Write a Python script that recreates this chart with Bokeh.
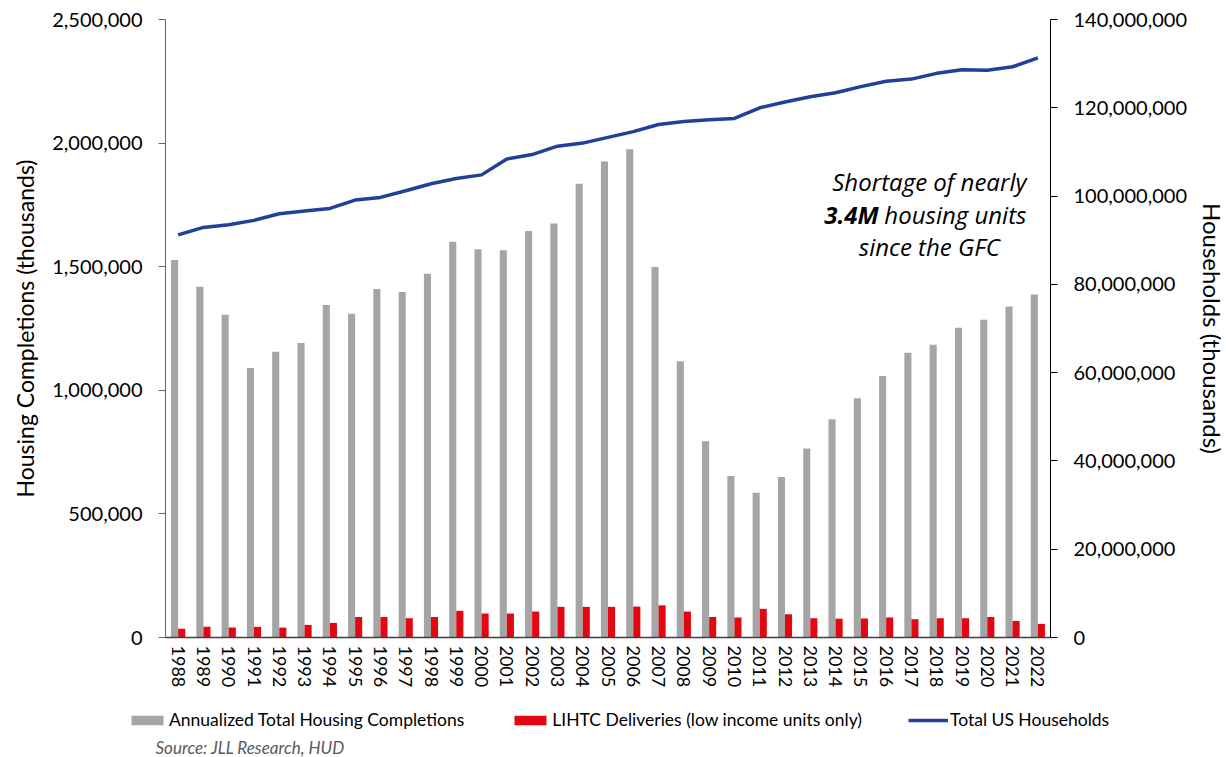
from bokeh.plotting import figure
from bokeh.models import (Range1d, LinearAxis, FixedTicker, NumeralTickFormatter,
                          Legend, LegendItem, Label, ColumnDataSource)
from bokeh.transform import dodge
from bokeh.embed import file_html
from bokeh.resources import INLINE

years = list(range(1988, 2023))

# Annualized total housing completions (units)
completions = [1527000, 1419000, 1306000, 1090000, 1156000, 1191000, 1345000, 1310000,
               1410000, 1398000, 1471000, 1601000, 1571000, 1567000, 1644000, 1675000,
               1836000, 1926000, 1975000, 1499000, 1118000, 794000, 653000, 586000,
               649000, 765000, 883000, 968000, 1058000, 1152000, 1184000, 1253000,
               1285000, 1339000, 1388000]

# LIHTC deliveries, low income units only
lihtc = [35000, 43000, 40000, 43000, 40000, 51000, 59000, 83000, 83000, 78000, 83000,
         108000, 97000, 97000, 105000, 124000, 124000, 124000, 125000, 130000, 105000,
         83000, 81000, 116000, 94000, 78000, 76000, 77000, 81000, 74000, 78000, 78000,
         83000, 67000, 55000]

# Total US households (millions)
households_m = [91.2, 92.9, 93.5, 94.5, 96.0, 96.6, 97.2, 99.1, 99.7, 101.2, 102.8,
                104.0, 104.8, 108.4, 109.4, 111.3, 112.0, 113.3, 114.6, 116.2, 116.9,
                117.3, 117.6, 120.0, 121.3, 122.5, 123.4, 124.8, 126.0, 126.5, 127.8,
                128.6, 128.5, 129.3, 131.3]

left_ticks = [0, 500000, 1000000, 1500000, 2000000, 2500000]
right_ticks = [0, 20e6, 40e6, 60e6, 80e6, 100e6, 120e6, 140e6]
LEFT_MAX = 2500000
RIGHT_MAX = 140e6

series_names = ["Annualized Total Housing Completions",
                "LIHTC Deliveries (low income units only)",
                "Total US Households"]

FONT = "Lato"
NOTE_FONT = "Open Sans"
GRAY = "#A5A5A5"
RED = "#E30613"
BLUE = "#21409A"
BAR_W = 0.28
LINE_W = 3.5

# page geometry (px): the whole canvas is the plot frame, the axes are pinned
# at fixed locations so the legend and the source note can sit below them
W, H = 1226, 757
AX_L, AX_R, AX_T, AX_B = 165, 1050, 19, 637

n = len(years)
px_per_cat = (AX_R - AX_L) / n
x_lo = -0.5 - AX_L / px_per_cat
x_hi = n - 0.5 + (W - AX_R) / px_per_cat


def span(vmax):
    per_px = vmax / (AX_B - AX_T)
    return Range1d(-(H - AX_B) * per_px, vmax + AX_T * per_px)


idx = list(range(n))
src = ColumnDataSource(dict(
    idx=idx,
    completions=completions,
    lihtc=lihtc,
    households=[h * 1e6 for h in households_m],
))

p = figure(width=W, height=H,
           x_range=Range1d(x_lo, x_hi), y_range=span(LEFT_MAX),
           output_backend="svg", toolbar_location=None,
           min_border=0, outline_line_color=None,
           background_fill_color="white", border_fill_color="white")
p.grid.visible = False
p.extra_y_ranges = {"hh": span(RIGHT_MAX)}

r_comp = p.vbar(x=dodge("idx", -BAR_W / 2), top="completions", width=BAR_W,
                source=src, fill_color=GRAY, line_color=None)
r_lihtc = p.vbar(x=dodge("idx", BAR_W / 2), top="lihtc", width=BAR_W,
                 source=src, fill_color=RED, line_color=None)
r_hh = p.line("idx", "households", source=src, y_range_name="hh",
              line_color=BLUE, line_width=LINE_W, line_join="round")

# x axis: year labels, vertical, pinned at zero
xa = p.xaxis[0]
xa.fixed_location = 0
xa.bounds = (-0.5, n - 0.5)
xa.ticker = FixedTicker(ticks=idx)
xa.major_label_overrides = {i: str(y) for i, y in zip(idx, years)}
xa.major_label_orientation = "vertical"
xa.major_tick_line_color = None
xa.major_tick_out = 0
xa.major_tick_in = 0
xa.minor_tick_line_color = None
xa.axis_line_color = "#404040"
xa.axis_line_width = 1.5
xa.major_label_text_font = FONT
xa.major_label_text_font_size = "18px"
xa.major_label_text_color = "#000000"
xa.major_label_standoff = 8

# left axis
ya = p.yaxis[0]
ya.fixed_location = -0.5
ya.bounds = (0, LEFT_MAX)
ya.ticker = FixedTicker(ticks=left_ticks)
ya.formatter = NumeralTickFormatter(format="0,0")
ya.axis_label = "Housing Completions (thousands)"
ya.axis_label_text_font = FONT
ya.axis_label_text_font_size = "23px"
ya.axis_label_text_font_style = "normal"
ya.axis_label_text_color = "#000000"
ya.axis_label_standoff = 10
ya.major_label_text_font = FONT
ya.major_label_text_font_size = "20px"
ya.major_label_text_color = "#000000"
ya.major_label_standoff = 16
ya.major_tick_out = 7
ya.major_tick_in = 0
ya.minor_tick_line_color = None
ya.axis_line_color = "#666666"
ya.major_tick_line_color = "#666666"

# right axis
ra = LinearAxis(y_range_name="hh", fixed_location=n - 0.5, bounds=(0, RIGHT_MAX))
ra.ticker = FixedTicker(ticks=right_ticks)
ra.formatter = NumeralTickFormatter(format="0,0")
ra.axis_label = "Households (thousands)"
ra.axis_label_text_font = FONT
ra.axis_label_text_font_size = "24px"
ra.axis_label_text_font_style = "normal"
ra.axis_label_text_color = "#000000"
ra.axis_label_standoff = 8
ra.major_label_text_font = FONT
ra.major_label_text_font_size = "20px"
ra.major_label_text_color = "#000000"
ra.major_label_standoff = 16
ra.major_tick_out = 7
ra.major_tick_in = 0
ra.minor_tick_line_color = None
ra.axis_line_color = "#000000"
ra.major_tick_line_color = "#000000"
p.add_layout(ra, "right")

# annotation
note_kw = dict(text_font=NOTE_FONT, text_font_size="24px", text_font_style="italic",
               text_color="#000000", text_baseline="middle")
p.add_layout(Label(x=29.71, y=1845000, text="Shortage of nearly", text_align="center", **note_kw))
p.add_layout(Label(x=27.70, y=1711000, text="3.4M", text_align="right",
                   **{**note_kw, "text_font_style": "bold italic"}))
p.add_layout(Label(x=27.93, y=1711000, text="housing units", text_align="left", **note_kw))
p.add_layout(Label(x=29.71, y=1582000, text="since the GFC", text_align="center", **note_kw))

legend = Legend(items=[
    LegendItem(label=series_names[0], renderers=[r_comp]),
    LegendItem(label=series_names[1], renderers=[r_lihtc]),
    LegendItem(label=series_names[2], renderers=[r_hh]),
], orientation="horizontal", location=(127, 27), spacing=46,
    glyph_width=40, glyph_height=12, label_standoff=2,
    label_text_font=FONT, label_text_font_size="17.5px", label_text_color="#000000",
    border_line_color=None, background_fill_alpha=0, padding=2, margin=0)
p.add_layout(legend, "center")

p.add_layout(Label(x=155, y=10, x_units="screen", y_units="screen",
                   text="Source: JLL Research, HUD", text_font=FONT,
                   text_font_size="17px", text_font_style="italic",
                   text_color="#595959", text_baseline="middle"))

open("out.html", "w").write(file_html(p, INLINE))
